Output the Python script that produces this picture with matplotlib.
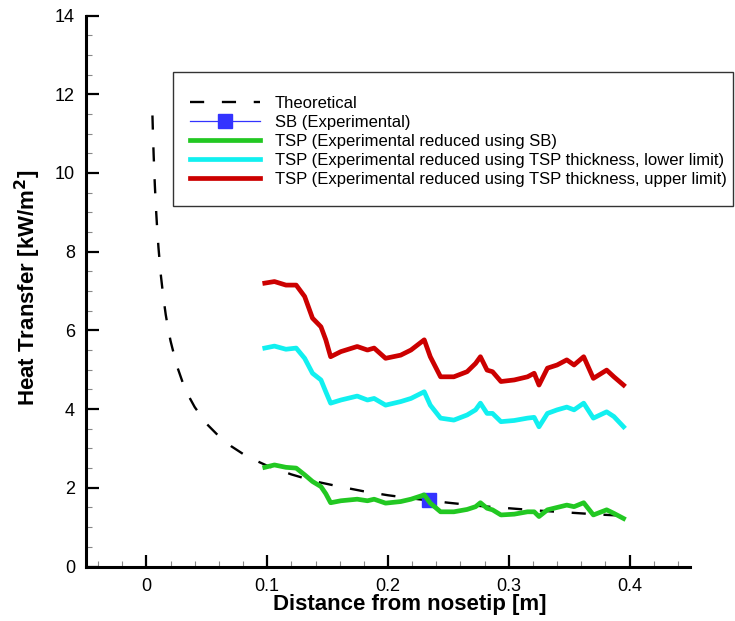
import matplotlib
matplotlib.use("Agg")
import matplotlib.pyplot as plt
from matplotlib.ticker import MultipleLocator, FixedLocator, FuncFormatter
from matplotlib.patches import Rectangle

plt.rcParams['font.family'] = ['Liberation Sans', 'DejaVu Sans']

# ---------------- data ----------------
theo_x = [0.005, 0.0055, 0.006, 0.007, 0.008, 0.009, 0.010, 0.012, 0.014, 0.016,
          0.018, 0.020, 0.025, 0.030, 0.035, 0.040, 0.050, 0.060, 0.070, 0.080,
          0.090, 0.100, 0.120, 0.140, 0.160, 0.180, 0.200, 0.225, 0.250, 0.275,
          0.300, 0.325, 0.350, 0.375, 0.395]
theo_y = [11.46, 10.92, 10.46, 9.68, 9.06, 8.54, 8.10, 7.39, 6.85, 6.40,
          6.04, 5.73, 5.12, 4.68, 4.33, 4.05, 3.62, 3.31, 3.06, 2.86,
          2.70, 2.56, 2.34, 2.16, 2.03, 1.91, 1.81, 1.71, 1.62, 1.54,
          1.48, 1.42, 1.37, 1.32, 1.29]

sb_x = [0.234]
sb_y = [1.68]

tsp_x = [0.098, 0.106, 0.1155, 0.124, 0.131, 0.1375, 0.1445, 0.1485, 0.1525, 0.161,
         0.1745, 0.183, 0.1885, 0.198, 0.2105, 0.219, 0.230, 0.235, 0.2435, 0.2545,
         0.2655, 0.2725, 0.2765, 0.282, 0.2865, 0.2935, 0.3045, 0.3155, 0.321, 0.325,
         0.332, 0.340, 0.348, 0.354, 0.362, 0.370, 0.381, 0.387, 0.395]

tsp_sb = [2.52, 2.58, 2.52, 2.50, 2.33, 2.16, 2.03, 1.85, 1.62, 1.67,
          1.71, 1.67, 1.71, 1.61, 1.65, 1.71, 1.82, 1.61, 1.39, 1.39,
          1.45, 1.52, 1.62, 1.48, 1.44, 1.31, 1.33, 1.39, 1.39, 1.27,
          1.44, 1.50, 1.56, 1.52, 1.62, 1.31, 1.44, 1.35, 1.22]

tsp_lower = [5.55, 5.60, 5.52, 5.55, 5.29, 4.91, 4.74, 4.44, 4.15, 4.23,
             4.33, 4.23, 4.27, 4.10, 4.19, 4.27, 4.44, 4.10, 3.77, 3.72,
             3.85, 3.98, 4.15, 3.89, 3.89, 3.68, 3.71, 3.77, 3.79, 3.55,
             3.89, 3.98, 4.05, 3.98, 4.15, 3.77, 3.93, 3.81, 3.55]

tsp_upper = [7.20, 7.24, 7.15, 7.15, 6.86, 6.31, 6.09, 5.76, 5.33, 5.46,
             5.59, 5.50, 5.55, 5.29, 5.37, 5.50, 5.76, 5.33, 4.82, 4.82,
             4.95, 5.16, 5.33, 4.99, 4.95, 4.70, 4.74, 4.82, 4.91, 4.61,
             5.04, 5.12, 5.25, 5.12, 5.33, 4.78, 4.99, 4.82, 4.61]

labels = ["Theoretical",
          "SB (Experimental)",
          "TSP (Experimental reduced using SB)",
          "TSP (Experimental reduced using TSP thickness, lower limit)",
          "TSP (Experimental reduced using TSP thickness, upper limit)"]

x_major = [0, 0.1, 0.2, 0.3, 0.4]

# ---------------- figure ----------------
W, H = 735, 621
fig = plt.figure(figsize=(W / 100, H / 100), dpi=100)
ax = fig.add_axes([86 / W, 1 - 566.5 / H, (690 - 86) / W, (566.5 - 15.5) / H])

h_theo, = ax.plot(theo_x, theo_y, color='black', lw=1.7, dashes=(6, 7.5),
                  label=labels[0], zorder=2)
h_sb, = ax.plot(sb_x, sb_y, color='#3333ff', lw=0.9, marker='s', markersize=10,
                markeredgecolor='#3333ff', markerfacecolor='#3333ff',
                label=labels[1], zorder=3)
h_g, = ax.plot(tsp_x, tsp_sb, color='#22c822', lw=3.4, label=labels[2], zorder=4)
h_c, = ax.plot(tsp_x, tsp_lower, color='#11f0f0', lw=3.4, label=labels[3], zorder=4)
h_r, = ax.plot(tsp_x, tsp_upper, color='#cc0000', lw=3.4, label=labels[4], zorder=4)

ax.set_xlim(-0.05, 0.45)
ax.set_ylim(0, 14)

for s in ['top', 'right']:
    ax.spines[s].set_visible(False)
for s in ['left', 'bottom']:
    ax.spines[s].set_linewidth(2.2)
    ax.spines[s].set_color('black')

ax.xaxis.set_major_locator(FixedLocator(x_major))
ax.xaxis.set_minor_locator(MultipleLocator(0.02))
ax.yaxis.set_major_locator(MultipleLocator(2))
ax.yaxis.set_minor_locator(MultipleLocator(0.5))
ax.xaxis.set_major_formatter(FuncFormatter(lambda v, p: '0' if abs(v) < 1e-9 else f'{v:g}'))
ax.yaxis.set_major_formatter(FuncFormatter(lambda v, p: f'{v:g}'))

ax.tick_params(which='major', direction='in', length=9, width=1.6, color='black',
               labelsize=13, pad=8)
ax.tick_params(which='minor', direction='in', length=4.5, width=0.8, color='#888888')

ax.set_xlabel('Distance from nosetip [m]', fontsize=16, fontweight='bold')
ax.set_ylabel('Heat Transfer [kW/m$^\\mathbf{2}$]', fontsize=16, fontweight='bold')
ax.xaxis.set_label_coords((410 - 86) / (690 - 86), -(594 - 566.5) / (566.5 - 15.5))
ax.yaxis.set_label_coords(-(86 - 43) / (690 - 86), 0.505)

# legend frame (drawn separately so its padding matches the reference)
frame = Rectangle((173 / W, 1 - 206 / H), (733 - 173) / W, (206 - 72) / H,
                  transform=fig.transFigure, facecolor='white',
                  edgecolor='#333333', lw=1.0, zorder=5, clip_on=False)
ax.add_artist(frame)

leg = ax.legend(handles=[h_theo, h_sb, h_g, h_c, h_r],
                loc='upper left', bbox_to_anchor=(190 / W, 1 - 96 / H),
                bbox_transform=fig.transFigure, borderaxespad=0, borderpad=0,
                fontsize=12, handlelength=4.2, handletextpad=0.9,
                labelspacing=0.24, frameon=False)
leg.set_zorder(6)

fig.savefig('out.png', dpi=100)
